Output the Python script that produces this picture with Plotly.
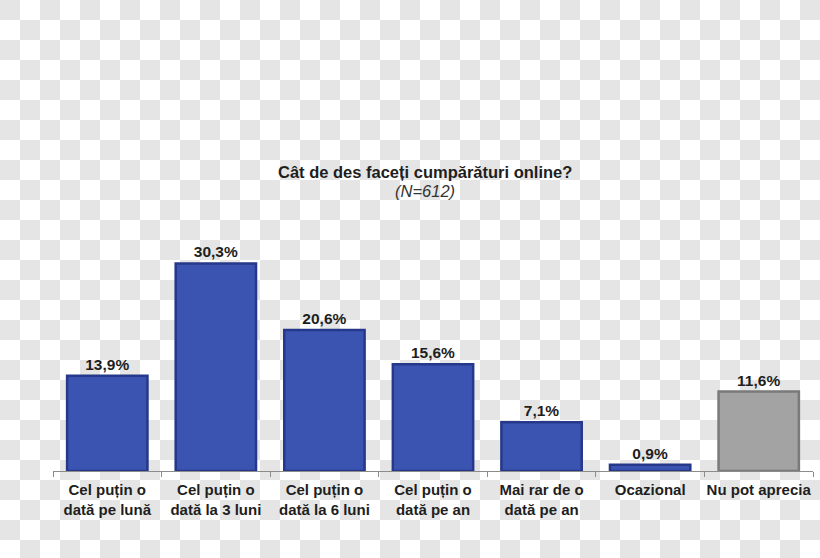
import plotly.graph_objects as go

categories = [
    "Cel puțin o<br>dată pe lună",
    "Cel puțin o<br>dată la 3 luni",
    "Cel puțin o<br>dată la 6 luni",
    "Cel puțin o<br>dată pe an",
    "Mai rar de o<br>dată pe an",
    "Ocazional",
    "Nu pot aprecia",
]
values = [13.9, 30.3, 20.6, 15.6, 7.1, 0.9, 11.6]
value_labels = ["13,9%", "30,3%", "20,6%", "15,6%", "7,1%", "0,9%", "11,6%"]
bar_colors = ["#3b54b2"] * 6 + ["#a3a3a3"]
edge_colors = ["#26388a"] * 6 + ["#7a7a7a"]

W, H = 820, 558
FONT = "Liberation Sans, Arial, sans-serif"
SQ = 20

# checkerboard background (transparency pattern) on a full-figure hidden axis
n_cols = W // SQ + 1
n_rows = H // SQ + 1
checker = [[1 if (r + c) % 2 == 0 else 0 for c in range(n_cols)] for r in range(n_rows)]

fig = go.Figure()
fig.add_trace(go.Heatmap(
    z=checker, x0=SQ / 2, dx=SQ, y0=SQ / 2, dy=SQ,
    colorscale=[[0, "#ffffff"], [1, "#e5e5e5"]], zmin=0, zmax=1,
    showscale=False, hoverinfo="skip", xaxis="x", yaxis="y",
))
fig.add_trace(go.Bar(
    x=categories, y=values, xaxis="x2", yaxis="y2",
    marker=dict(color=bar_colors, line=dict(color=edge_colors, width=2.5)),
    text=value_labels, textposition="outside", cliponaxis=False,
    textfont=dict(family=FONT, size=15.5, color="#1e1e1e", weight="bold"),
    hoverinfo="skip",
))

x0_px, x1_px = 53, 813
y_bottom_px, y_top_px = 471, 197

fig.update_layout(
    width=W, height=H,
    margin=dict(l=0, r=0, t=0, b=0, autoexpand=False),
    paper_bgcolor="#ffffff", plot_bgcolor="rgba(0,0,0,0)",
    showlegend=False,
    bargap=0.26,
    font=dict(family=FONT, size=15, color="#1e1e1e"),
    xaxis=dict(domain=[0, 1], range=[0, W], visible=False, fixedrange=True),
    yaxis=dict(domain=[0, 1], range=[H, 0], visible=False, fixedrange=True),
    xaxis2=dict(
        domain=[x0_px / W, x1_px / W], anchor="y2",
        range=[-0.5, 6.5],
        showline=True, linecolor="#8c8c8c", linewidth=1,
        ticks="outside", tickson="boundaries", ticklen=5, tickcolor="#8c8c8c",
        ticklabelstandoff=5, tickangle=0,
        showgrid=False, zeroline=False,
        tickfont=dict(family=FONT, size=15, color="#1e1e1e", weight="bold"),
    ),
    yaxis2=dict(
        domain=[1 - y_bottom_px / H, 1 - y_top_px / H], anchor="x2",
        range=[0, 40], visible=False, showgrid=False,
    ),
    annotations=[
        dict(text="<b>Cât de des faceți cumpărături online?</b>", xref="paper", yref="paper",
             x=425 / W, y=1 - 172 / H, showarrow=False, xanchor="center", yanchor="middle",
             font=dict(family=FONT, size=16.5, color="#1e1e1e")),
        dict(text="<i>(N=612)</i>", xref="paper", yref="paper",
             x=425 / W, y=1 - 191 / H, showarrow=False, xanchor="center", yanchor="middle",
             font=dict(family=FONT, size=16.5, color="#333333")),
    ],
)

fig.write_html("out.html")
